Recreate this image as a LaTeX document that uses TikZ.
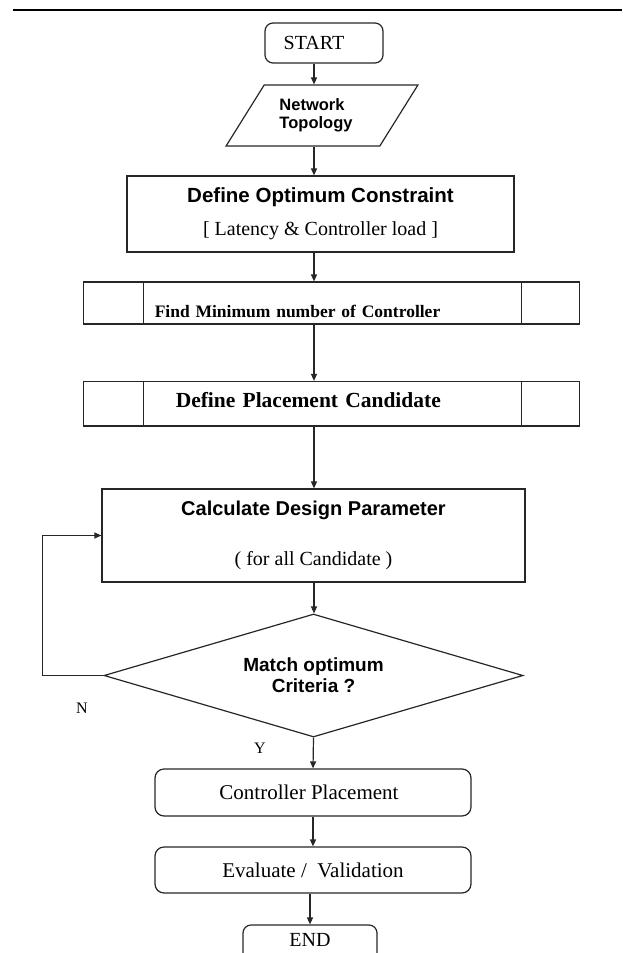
\documentclass[tikz,border=0pt]{standalone}
\usepackage{fontspec}
\setmainfont{Liberation Serif}
\setsansfont{Liberation Sans}
\usetikzlibrary{shapes.geometric,arrows.meta}

\begin{document}
\begin{tikzpicture}[x=1pt,y=-1pt,
	line/.style={draw=black!85,line width=1.2pt},
	arr/.style={line,-{Triangle[length=7pt,width=6pt]}},
	term/.style={line,rounded corners=8pt,minimum width=118pt,minimum height=40pt,inner sep=0pt,font=\fontsize{20}{24}\selectfont},
	proc/.style={line,rectangle,inner sep=0pt,align=center,font=\fontsize{20}{24}\selectfont},
	subproc/.style={line,rectangle,inner sep=0pt,minimum width=496pt,text width=496pt,align=left,path picture={
		\draw[black!85,line width=1.2pt] ([xshift=60pt]path picture bounding box.north west) -- ([xshift=60pt]path picture bounding box.south west);
		\draw[black!85,line width=1.2pt] ([xshift=-58pt]path picture bounding box.north east) -- ([xshift=-58pt]path picture bounding box.south east);}},
	rbox/.style={line,rounded corners=9pt,minimum width=316pt,inner sep=0pt,font=\fontsize{21}{25}\selectfont},
	lbl/.style={font=\fontsize{16}{18}\selectfont,inner sep=0pt}]
	\clip (0,0) rectangle (622,953);
	\draw[line width=2pt] (13,10) -- (622,10);
	\coordinate (axis) at (314,0);

% steps
	\node[term] (start) at (324,43) {\hspace*{-20pt}START};
	\node[line,trapezium,trapezium left angle=59,trapezium right angle=121,trapezium stretches=true,minimum width=192pt,minimum height=61pt,inner sep=0pt,align=left,font=\sffamily\bfseries\fontsize{16.5}{18}\selectfont] (topo) at (322,115.5) {\hspace*{-12pt}Network\\\hspace*{-12pt}Topology};
	\node[proc,minimum width=387pt,minimum height=76pt] (optc) at (320.5,214) {{\sffamily\bfseries\fontsize{20.5}{24}\selectfont Define Optimum Constraint}\\[9pt]{[ Latency \& Controller load ]}};
	\node[subproc,minimum height=42pt,font=\bfseries\fontsize{17.5}{20}\selectfont] (findmin) at (331.75,303) {\hspace*{71pt}\raisebox{-8pt}[\height][\depth]{Find Minimum number of Controller}};
	\node[subproc,minimum height=44.5pt,font=\bfseries\fontsize{21.5}{25}\selectfont] (cand) at (331.75,403.75) {\hspace*{92pt}\raisebox{4pt}[\height][\depth]{Define Placement Candidate}};
	\node[proc,minimum width=423pt,minimum height=93pt] (calc) at (313.5,535.5) {{\sffamily\bfseries Calculate Design Parameter}\\[26pt]{( for all Candidate )}};
	\node[line,diamond,shape aspect=3.4,minimum width=419pt,minimum height=123pt,inner sep=0pt,align=center,font=\sffamily\bfseries\fontsize{19}{21}\selectfont] (dec) at (313.5,675.5) {Match optimum\\Criteria ?};
	\node[rbox,minimum height=47pt] (plc) at (313,792.5) {\hspace*{-8pt}Controller Placement};
	\node[rbox,minimum height=46pt] (eval) at (313,870) {Evaluate /\ \ Validation};
	\node[term,minimum width=134pt] (stop) at (310,945) {\raisebox{5pt}[\height][\depth]{END}};

	\node[lbl] (no) at (82,708) {N};
	\node[lbl] (yes) at (260,748) {Y};

%Links
	\draw[arr] (start.south -| axis) -- (topo.north -| axis);
	\draw[arr] (topo.south -| axis) -- (optc.north -| axis);
	\draw[arr] (optc.south -| axis) -- (findmin.north -| axis);
	\draw[arr] (findmin.south -| axis) -- (cand.north -| axis);
	\draw[arr] (cand.south -| axis) -- (calc.north -| axis);
	\draw[arr] (calc.south -| axis) -- (dec.north -| axis);
	\draw[arr] (dec.south) -- (plc.north);
	\draw[arr] (plc.south) -- (eval.north);
	\draw[arr] (eval.south -| stop.north) -- (stop.north);

	% back to the design parameters
	\draw[arr] (dec.west) -- ++(-61,0) |- (calc.west);
\end{tikzpicture}
\end{document}
